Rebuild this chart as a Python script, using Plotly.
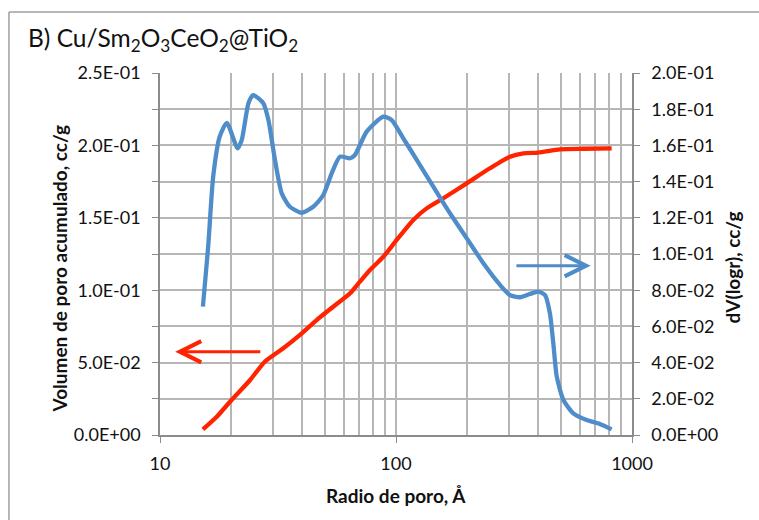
import math
import plotly.graph_objects as go

# ---- data ----
radius_blue = [15.2, 16.0, 16.8, 17.9, 19.2, 21.3, 22.2, 23.7, 24.8, 27.4, 28.8, 30.7, 32.8, 35.5,
               39.8, 44.6, 49.2, 53.4, 57.9, 63.9, 67.0, 75.1, 88.4, 95.9, 107.4, 122.4, 143.9,
               169.3, 199.3, 234.6, 276, 304, 335, 369.5, 401, 428, 449, 464, 480, 512, 564, 642,
               731, 820]
dv_logr = [0.0709, 0.104, 0.1427, 0.1648, 0.1725, 0.1584, 0.163, 0.1833, 0.1878, 0.1833, 0.174,
           0.152, 0.1335, 0.1261, 0.1228, 0.1261, 0.1326, 0.1446, 0.1538, 0.1529, 0.1547, 0.1676,
           0.1759, 0.174, 0.1639, 0.152, 0.1372, 0.1225, 0.1087, 0.0949, 0.0829, 0.0773, 0.0761,
           0.0779, 0.0792, 0.0773, 0.0672, 0.0507, 0.0322, 0.0193, 0.012, 0.0083, 0.0061, 0.0031]

radius_red = [15.2, 17.4, 20.1, 24.1, 27.8, 33.3, 39.2, 46.1, 54.2, 63.9, 70.3, 77.6, 88.4, 100.7,
              118.4, 134.8, 158.7, 199.3, 250, 304, 346.6, 401, 495, 622, 820]
vol_acum = [0.0039, 0.0126, 0.0242, 0.038, 0.0506, 0.0599, 0.0691, 0.0794, 0.0886, 0.0979, 0.1059,
            0.114, 0.1231, 0.1347, 0.1485, 0.1565, 0.1635, 0.1738, 0.1842, 0.1922, 0.1945, 0.195,
            0.1973, 0.1977, 0.198]

left_tickvals = [0, 0.05, 0.10, 0.15, 0.20, 0.25]
left_ticktext = ["0.0E+00", "5.0E-02", "1.0E-01", "1.5E-01", "2.0E-01", "2.5E-01"]
right_tickvals = [0, 0.02, 0.04, 0.06, 0.08, 0.10, 0.12, 0.14, 0.16, 0.18, 0.20]
right_ticktext = ["0.0E+00", "2.0E-02", "4.0E-02", "6.0E-02", "8.0E-02", "1.0E-01",
                  "1.2E-01", "1.4E-01", "1.6E-01", "1.8E-01", "2.0E-01"]
x_tickvals = [10, 100, 1000]
x_ticktext = ["10", "100", "1000"]

# arrows (data coordinates)
red_arrow = dict(x_from=27.0, x_to=11.6, y=0.0575)
blue_arrow = dict(x_from=319, x_to=668, y=0.0935)

BLUE = "#4F8DCA"
RED = "#FF2300"
GRID = "#b6b6b6"
AXC = "#8c8c8c"
FONT = "Lato"
TXT = "#111111"

fig = go.Figure()
fig.add_trace(go.Scatter(x=radius_red, y=vol_acum, mode="lines", yaxis="y",
                         line=dict(color=RED, width=4.3, shape="spline", smoothing=0.6),
                         showlegend=False, hoverinfo="skip"))
fig.add_trace(go.Scatter(x=radius_blue, y=dv_logr, mode="lines", yaxis="y2",
                         line=dict(color=BLUE, width=4.3, shape="spline", smoothing=0.6),
                         showlegend=False, hoverinfo="skip"))

fig.update_layout(
    width=759, height=520,
    margin=dict(l=160, r=127, t=73, b=85),
    paper_bgcolor="white", plot_bgcolor="white",
    font=dict(family=FONT, size=18, color=TXT),
    xaxis=dict(type="log", range=[1, 3], tickvals=x_tickvals, ticktext=x_ticktext,
               ticks="outside", ticklen=6, tickcolor=AXC, ticklabelstandoff=6,
               showgrid=True, gridcolor=GRID, gridwidth=1.8,
               minor=dict(showgrid=True, gridcolor=GRID, gridwidth=1.8, dtick="D1", ticks=""),
               showline=True, linecolor=AXC, linewidth=1.5, zeroline=False),
    yaxis=dict(range=[0, 0.25], tickvals=left_tickvals, ticktext=left_ticktext,
               ticks="outside", ticklen=6, tickcolor=AXC, ticklabelstandoff=8,
               showgrid=True, gridcolor=GRID, gridwidth=1.8,
               minor=dict(dtick=0.025, showgrid=True, gridcolor=GRID, gridwidth=1.8,
                          ticks="outside", ticklen=6, tickcolor=AXC),
               showline=True, linecolor=AXC, linewidth=1.5, zeroline=False),
    yaxis2=dict(range=[0, 0.20], tickvals=right_tickvals, ticktext=right_ticktext,
                overlaying="y", side="right", ticks="outside", ticklen=6, tickcolor=AXC,
                ticklabelstandoff=8, showgrid=False,
                showline=True, linecolor=AXC, linewidth=1.5, zeroline=False),
)

annotations = [
    dict(text="B) Cu/Sm<sub>2</sub>O<sub>3</sub>CeO<sub>2</sub>@TiO<sub>2</sub>",
         xref="paper", yref="paper", x=-0.2839, y=1.0915, xanchor="left", yanchor="middle",
         showarrow=False, font=dict(family=FONT, size=24.5, color=TXT)),
    dict(text="<b>Volumen de poro acumulado, cc/g</b>", xref="paper", yref="paper",
         x=-0.2415, y=0.4586, textangle=-90, showarrow=False,
         font=dict(family=FONT, size=19, color=TXT)),
    dict(text="<b>dV(logr), cc/g</b>", xref="paper", yref="paper",
         x=1.2415, y=0.464, textangle=-90, showarrow=False,
         font=dict(family=FONT, size=19, color=TXT)),
    dict(text="<b>Radio de poro, Å</b>", xref="paper", yref="paper",
         x=0.5, y=-0.1685, yanchor="middle", showarrow=False,
         font=dict(family=FONT, size=19, color=TXT)),
    dict(text="", xref="x", yref="y", axref="x", ayref="y",
         x=math.log10(red_arrow["x_to"]), y=red_arrow["y"],
         ax=math.log10(red_arrow["x_from"]), ay=red_arrow["y"],
         showarrow=True, arrowhead=5, arrowsize=1.4, arrowwidth=3, arrowcolor=RED),
    dict(text="", xref="x", yref="y2", axref="x", ayref="y2",
         x=math.log10(blue_arrow["x_to"]), y=blue_arrow["y"],
         ax=math.log10(blue_arrow["x_from"]), ay=blue_arrow["y"],
         showarrow=True, arrowhead=5, arrowsize=1.4, arrowwidth=3, arrowcolor=BLUE),
]
fig.update_layout(annotations=annotations)

# outer chart frame (left and top edges visible)
fig.add_shape(type="line", xref="paper", yref="paper", x0=-0.32, x1=-0.32, y0=-0.5, y1=1.1685,
              line=dict(color="#a0a0a0", width=1.5))
fig.add_shape(type="line", xref="paper", yref="paper", x0=-0.32, x1=1.5, y0=1.1685, y1=1.1685,
              line=dict(color="#a0a0a0", width=1.5))

fig.write_html("out.html")
